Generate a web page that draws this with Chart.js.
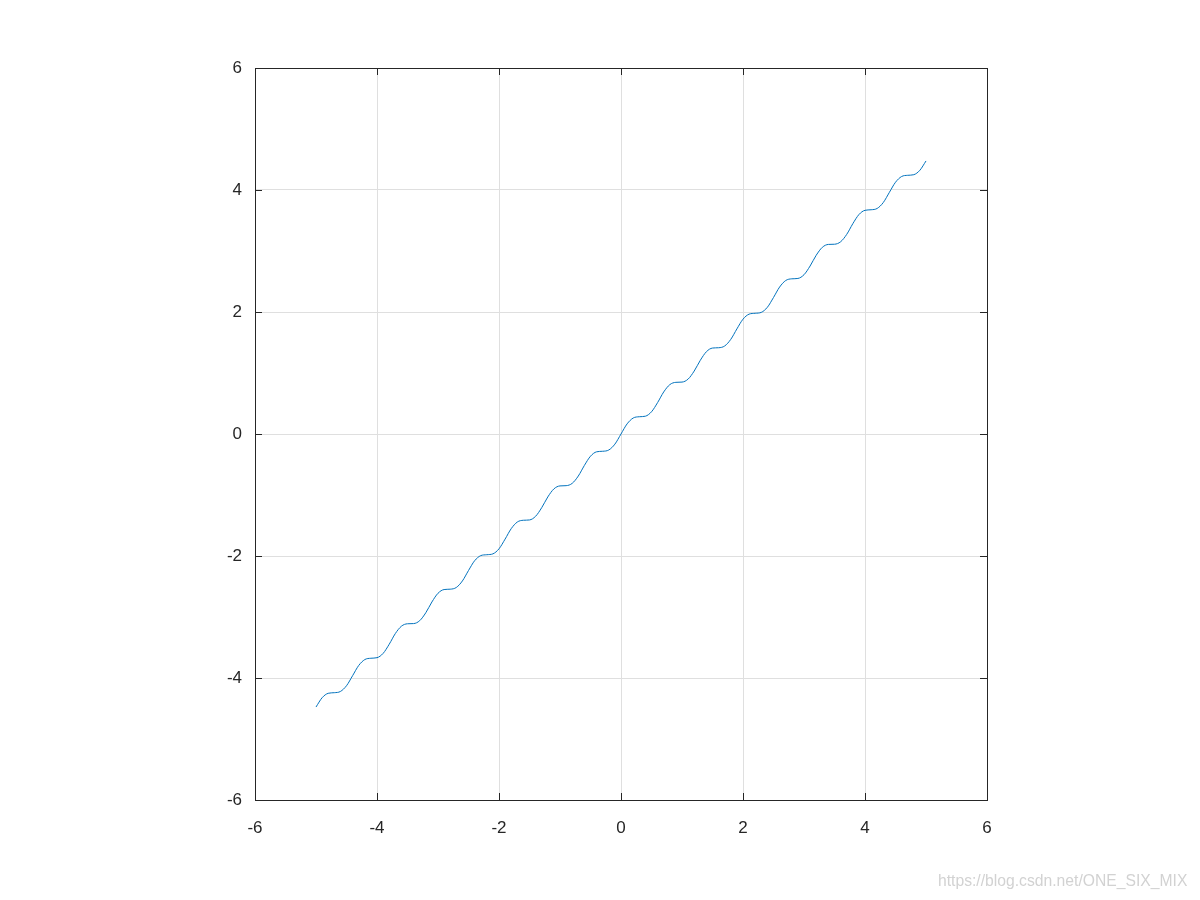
<!DOCTYPE html>
<html>
<head>
<meta charset="utf-8">
<script src="https://cdn.jsdelivr.net/npm/chart.js@4/dist/chart.umd.min.js"></script>
<style>
  body { margin: 0; background: #fff; }
  #wrap { position: relative; width: 1200px; height: 900px; }
  #marca { position: absolute; left: 938px; top: 872px; font: 15.7px "Liberation Sans", Arial, sans-serif; color: #d2d2d2; }
</style>
</head>
<body>
<div id="wrap">
  <canvas id="grafico" width="1200" height="900"></canvas>
  <div id="marca">https://blog.csdn.net/ONE_SIX_MIX</div>
</div>
<script>
// pontos
const xs = [
  -5.0, -4.9, -4.8, -4.7, -4.6, -4.5, -4.4, -4.3, -4.2, -4.1,
  -4.0, -3.9, -3.8, -3.7, -3.6, -3.5, -3.4, -3.3, -3.2, -3.1,
  -3.0, -2.9, -2.8, -2.7, -2.6, -2.5, -2.4, -2.3, -2.2, -2.1,
  -2.0, -1.9, -1.8, -1.7, -1.6, -1.5, -1.4, -1.3, -1.2, -1.1,
  -1.0, -0.9, -0.8, -0.7, -0.6, -0.5, -0.4, -0.3, -0.2, -0.1,
  0.0,
  0.1, 0.2, 0.3, 0.4, 0.5, 0.6, 0.7, 0.8, 0.9, 1.0,
  1.1, 1.2, 1.3, 1.4, 1.5, 1.6, 1.7, 1.8, 1.9, 2.0,
  2.1, 2.2, 2.3, 2.4, 2.5, 2.6, 2.7, 2.8, 2.9, 3.0,
  3.1, 3.2, 3.3, 3.4, 3.5, 3.6, 3.7, 3.8, 3.9, 4.0,
  4.1, 4.2, 4.3, 4.4, 4.5, 4.6, 4.7, 4.8, 4.9, 5.0
]
const ys = [
  -4.476, -4.324, -4.251, -4.241, -4.221, -4.127, -3.962, -3.795, -3.698, -3.676,
  -3.667, -3.597, -3.447, -3.272, -3.151, -3.111, -3.108, -3.060, -2.930, -2.754,
  -2.611, -2.550, -2.544, -2.516, -2.409, -2.238, -2.078, -1.994, -1.979, -1.965,
  -1.882, -1.723, -1.552, -1.443, -1.414, -1.409, -1.349, -1.208, -1.032, -0.900,
  -0.851, -0.847, -0.809, -0.689, -0.515, -0.364, -0.292, -0.283, -0.262, -0.166,
  0.0,
  0.166, 0.262, 0.283, 0.292, 0.364, 0.515, 0.689, 0.809, 0.847, 0.851,
  0.900, 1.032, 1.208, 1.349, 1.409, 1.414, 1.443, 1.552, 1.723, 1.882,
  1.965, 1.979, 1.994, 2.078, 2.238, 2.409, 2.516, 2.544, 2.550, 2.611,
  2.754, 2.930, 3.060, 3.108, 3.111, 3.151, 3.272, 3.447, 3.597, 3.667,
  3.676, 3.698, 3.795, 3.962, 4.127, 4.221, 4.241, 4.251, 4.324, 4.476
]
const eixoMin = -6
const eixoMax = 6
const passo = 2

const corEixo = '#262626'
const corGrade = '#dfdfdf'
const fonte = { family: '"Liberation Sans", Arial, sans-serif', size: 17 }

// caixa e marcas internas estilo matlab
const caixa = {
  id: 'caixa',
  afterDraw(chart) {
    const c = chart.ctx
    const a = chart.chartArea
    const sx = chart.scales.x
    const sy = chart.scales.y
    c.save()
    c.strokeStyle = corEixo
    c.lineWidth = 1
    c.beginPath()
    for (let v = eixoMin; v <= eixoMax; v += passo) {
      let px = Math.round(sx.getPixelForValue(v)) + 0.5
      c.moveTo(px, a.bottom); c.lineTo(px, a.bottom - 7)
      c.moveTo(px, a.top); c.lineTo(px, a.top + 7)
      let py = Math.round(sy.getPixelForValue(v)) + 0.5
      c.moveTo(a.left, py); c.lineTo(a.left + 7, py)
      c.moveTo(a.right, py); c.lineTo(a.right - 7, py)
    }
    c.stroke()
    c.strokeRect(Math.round(a.left) + 0.5, Math.round(a.top) + 0.5,
      Math.round(a.right - a.left), Math.round(a.bottom - a.top))
    c.restore()
  }
}

let ctx = document.getElementById('grafico').getContext('2d')
let chart = new Chart(ctx, {
  type: 'scatter',
  data: {
    datasets: [{
      data: xs.map((x, i) => ({ x: x, y: ys[i] })),
      showLine: true,
      borderColor: 'rgb(0, 114, 189)',
      borderWidth: 1,
      pointRadius: 0,
      cubicInterpolationMode: 'monotone',
      fill: false
    }]
  },
  options: {
    responsive: false,
    animation: false,
    layout: { padding: { left: 0, top: 68, right: 213, bottom: 0 } },
    plugins: { legend: { display: false }, tooltip: { enabled: false } },
    scales: {
      x: {
        type: 'linear', min: eixoMin, max: eixoMax,
        afterFit: (s) => { s.height = 100 },
        grid: { color: corGrade, drawTicks: false },
        border: { display: false },
        ticks: { stepSize: passo, color: corEixo, font: fonte, padding: 18, autoSkip: false, maxRotation: 0 }
      },
      y: {
        type: 'linear', min: eixoMin, max: eixoMax,
        afterFit: (s) => { s.width = 255 },
        grid: { color: corGrade, drawTicks: false },
        border: { display: false },
        ticks: { stepSize: passo, color: corEixo, font: fonte, padding: 13 }
      }
    }
  },
  plugins: [caixa]
})
</script>
</body>
</html>
